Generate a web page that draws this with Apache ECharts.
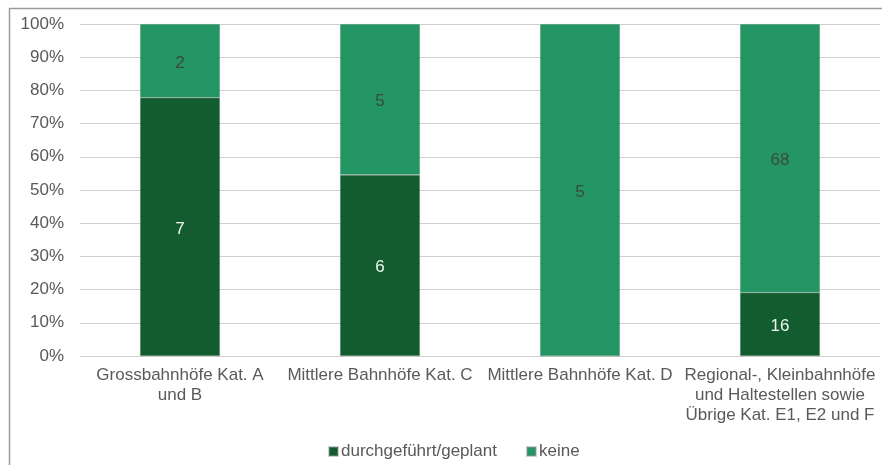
<!DOCTYPE html>
<html>
<head>
<meta charset="utf-8">
<style>
  html, body { margin: 0; padding: 0; background: #ffffff; }
  #chart { width: 882px; height: 465px; }
</style>
<script src="https://cdn.jsdelivr.net/npm/echarts@6/dist/echarts.min.js"></script>
</head>
<body>
<div id="chart"></div>
<script>
// Station categories (x axis)
const categories = [
  'Grossbahnhöfe Kat. A\nund B',
  'Mittlere Bahnhöfe Kat. C',
  'Mittlere Bahnhöfe Kat. D',
  'Regional-, Kleinbahnhöfe\nund Haltestellen sowie\nÜbrige Kat. E1, E2 und F'
];
// Station counts per category
const doneCounts = [7, 6, 0, 16];    // durchgeführt/geplant
const noneCounts = [2, 5, 5, 68];    // keine
const seriesNames = ['durchgeführt/geplant', 'keine'];
const yTicks = { min: 0, max: 100, interval: 10 };

// Share of each category (100 % stacked), label keeps the absolute count
function shares(counts) {
  return counts.map((c, i) => {
    const total = doneCounts[i] + noneCounts[i];
    return { value: total ? (c / total) * 100 : 0, count: c };
  });
}

const FONT = '"Liberation Sans", Arial, sans-serif';
const TEXT = '#595959';

const chart = echarts.init(document.getElementById('chart'), null, { renderer: 'canvas' });

const barBase = {
  type: 'bar',
  stack: 'total',
  barWidth: '40%',
  label: {
    show: true,
    position: 'inside',
    fontFamily: FONT,
    fontSize: 17,
    offset: [0, 2],
    formatter: p => (p.data.count ? String(p.data.count) : '')
  }
};

chart.setOption({
  animation: false,
  textStyle: { fontFamily: FONT },
  grid: { left: 80, right: 2, top: 24, bottom: 109, containLabel: false },
  legend: {
    data: seriesNames,
    left: 323,
    top: 438,
    itemWidth: 9,
    itemHeight: 9,
    itemGap: 29,
    icon: 'rect',
    textStyle: { color: TEXT, fontSize: 17, fontFamily: FONT, padding: [0, 0, 0, -2] }
  },
  xAxis: {
    type: 'category',
    data: categories,
    axisLine: { lineStyle: { color: '#d0d0d0', width: 1 } },
    axisTick: { show: false },
    axisLabel: {
      interval: 0,
      color: TEXT,
      fontSize: 17,
      fontFamily: FONT,
      lineHeight: 20,
      margin: 9,
      align: 'center'
    }
  },
  yAxis: {
    type: 'value',
    min: yTicks.min,
    max: yTicks.max,
    interval: yTicks.interval,
    axisLine: { show: false },
    axisTick: { show: false },
    splitLine: { lineStyle: { color: '#d0d0d0', width: 1 } },
    axisLabel: {
      formatter: '{value}%',
      color: TEXT,
      fontSize: 17,
      fontFamily: FONT,
      margin: 16
    }
  },
  series: [
    Object.assign({}, barBase, {
      name: seriesNames[0],
      data: shares(doneCounts),
      itemStyle: { color: '#135c2f', borderColor: 'rgba(150,150,150,0.45)', borderWidth: 0.6 },
      label: Object.assign({}, barBase.label, { color: '#eef6ef' })
    }),
    Object.assign({}, barBase, {
      name: seriesNames[1],
      data: shares(noneCounts),
      itemStyle: { color: '#249663', borderColor: 'rgba(150,150,150,0.45)', borderWidth: 0.6 },
      label: Object.assign({}, barBase.label, { color: '#3a4a3f' })
    })
  ],
  graphic: [
    {
      type: 'line',
      shape: { x1: 9.5, y1: 8, x2: 9.5, y2: 465 },
      style: { stroke: '#9a9a9a', lineWidth: 1.5 },
      silent: true
    },
    {
      type: 'line',
      shape: { x1: 9, y1: 8.5, x2: 882, y2: 8.5 },
      style: { stroke: '#9a9a9a', lineWidth: 1.5 },
      silent: true
    }
  ]
});
</script>
</body>
</html>
